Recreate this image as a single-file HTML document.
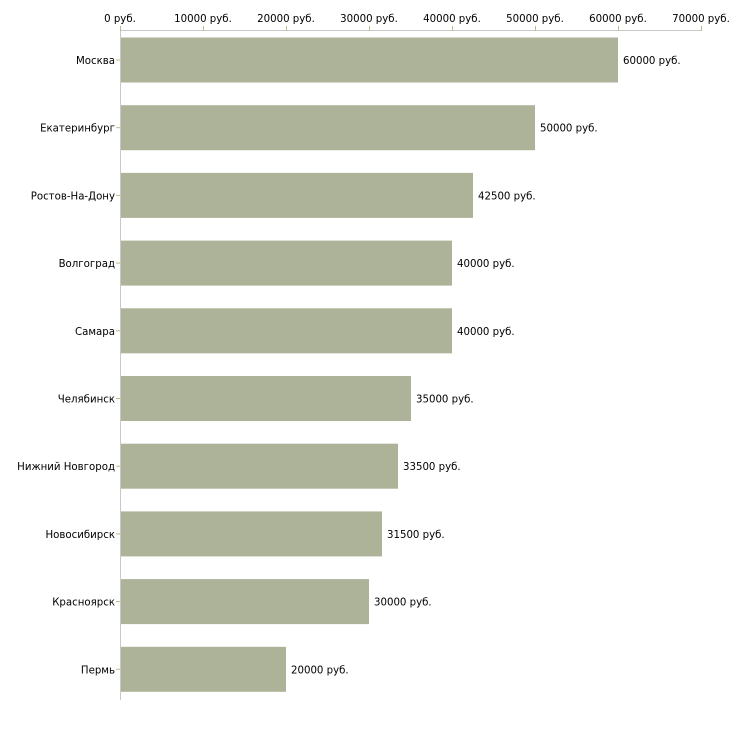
<!DOCTYPE html>
<html><head><meta charset="utf-8"><style>body{margin:0;background:#fff}</style></head><body>
<svg width="730" height="730" xmlns="http://www.w3.org/2000/svg" font-family="DejaVu Sans, Verdana, sans-serif" font-size="10.2" fill="#000">
<line x1="120" y1="30.5" x2="701" y2="30.5" stroke="#c8c8c8"/>
<line x1="120.5" y1="30" x2="120.5" y2="700" stroke="#c8c8c8"/>
<g stroke="#b8bb8e">
<line x1="120.5" y1="26" x2="120.5" y2="31"/><line x1="203.5" y1="26" x2="203.5" y2="31"/><line x1="286.5" y1="26" x2="286.5" y2="31"/><line x1="369.5" y1="26" x2="369.5" y2="31"/><line x1="452.5" y1="26" x2="452.5" y2="31"/><line x1="535.5" y1="26" x2="535.5" y2="31"/><line x1="618.5" y1="26" x2="618.5" y2="31"/><line x1="701.5" y1="26" x2="701.5" y2="31"/>
</g>
<g text-anchor="middle">
<text x="120" y="22">0 руб.</text><text x="203" y="22">10000 руб.</text><text x="286" y="22">20000 руб.</text><text x="369" y="22">30000 руб.</text><text x="452" y="22">40000 руб.</text><text x="535" y="22">50000 руб.</text><text x="618" y="22">60000 руб.</text><text x="701" y="22">70000 руб.</text>
</g>
<g fill="#acb398">
<rect x="121" y="37.5" width="497" height="45"/>
<rect x="121" y="105.2" width="414" height="45"/>
<rect x="121" y="172.9" width="352" height="45"/>
<rect x="121" y="240.6" width="331" height="45"/>
<rect x="121" y="308.3" width="331" height="45"/>
<rect x="121" y="376" width="290" height="45"/>
<rect x="121" y="443.7" width="277" height="45"/>
<rect x="121" y="511.4" width="261" height="45"/>
<rect x="121" y="579.1" width="248" height="45"/>
<rect x="121" y="646.8" width="165" height="45"/>
</g>
<g stroke="#b8bb8e">
<line x1="116" y1="60" x2="120" y2="60"/><line x1="116" y1="127.7" x2="120" y2="127.7"/><line x1="116" y1="195.4" x2="120" y2="195.4"/><line x1="116" y1="263.1" x2="120" y2="263.1"/><line x1="116" y1="330.8" x2="120" y2="330.8"/><line x1="116" y1="398.5" x2="120" y2="398.5"/><line x1="116" y1="466.2" x2="120" y2="466.2"/><line x1="116" y1="533.9" x2="120" y2="533.9"/><line x1="116" y1="601.6" x2="120" y2="601.6"/><line x1="116" y1="669.3" x2="120" y2="669.3"/>
</g>
<g text-anchor="end">
<text x="115" y="64">Москва</text><text x="115" y="131.7">Екатеринбург</text><text x="115" y="199.4">Ростов-На-Дону</text><text x="115" y="267.1">Волгоград</text><text x="115" y="334.8">Самара</text><text x="115" y="402.5">Челябинск</text><text x="115" y="470.2">Нижний Новгород</text><text x="115" y="537.9">Новосибирск</text><text x="115" y="605.6">Красноярск</text><text x="115" y="673.3">Пермь</text>
</g>
<g>
<text x="623" y="64">60000 руб.</text><text x="540" y="131.7">50000 руб.</text><text x="478" y="199.4">42500 руб.</text><text x="457" y="267.1">40000 руб.</text><text x="457" y="334.8">40000 руб.</text><text x="416" y="402.5">35000 руб.</text><text x="403" y="470.2">33500 руб.</text><text x="387" y="537.9">31500 руб.</text><text x="374" y="605.6">30000 руб.</text><text x="291" y="673.3">20000 руб.</text>
</g>
</svg>
</body></html>
